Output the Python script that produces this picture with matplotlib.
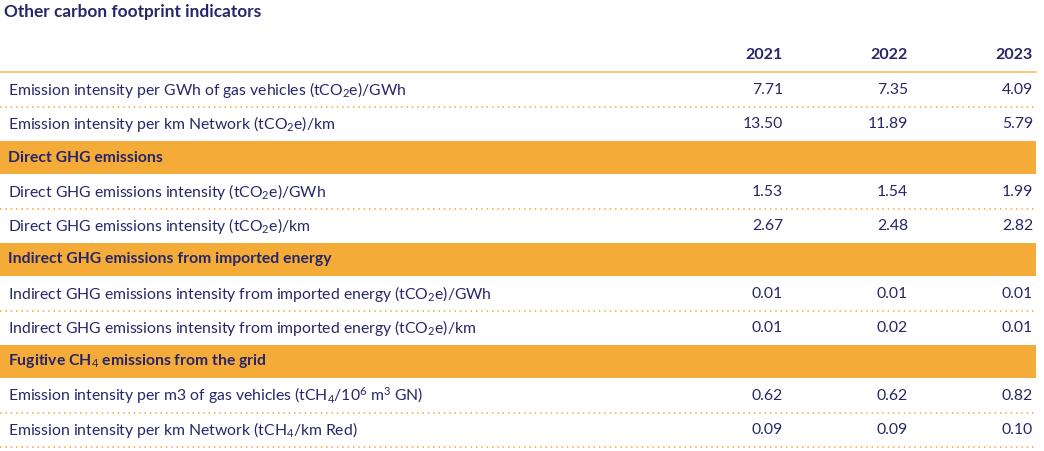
import matplotlib
matplotlib.use("Agg")
import matplotlib.pyplot as plt
from matplotlib.patches import Rectangle

plt.rcParams['font.family'] = ['Lato', 'DejaVu Sans']
plt.rcParams['mathtext.fontset'] = 'custom'
plt.rcParams['mathtext.rm'] = 'Lato'
plt.rcParams['mathtext.it'] = 'Lato'
plt.rcParams['mathtext.bf'] = 'Lato:bold'

title = "Other carbon footprint indicators"
years = ["2021", "2022", "2023"]
# (label, values or None for section header)
rows = [
    ("Emission intensity per GWh of gas vehicles (tCO$_2$e)/GWh", ["7.71", "7.35", "4.09"]),
    ("Emission intensity per km Network (tCO$_2$e)/km", ["13.50", "11.89", "5.79"]),
    ("Direct GHG emissions", None),
    ("Direct GHG emissions intensity (tCO$_2$e)/GWh", ["1.53", "1.54", "1.99"]),
    ("Direct GHG emissions intensity (tCO$_2$e)/km", ["2.67", "2.48", "2.82"]),
    ("Indirect GHG emissions from imported energy", None),
    ("Indirect GHG emissions intensity from imported energy (tCO$_2$e)/GWh", ["0.01", "0.01", "0.01"]),
    ("Indirect GHG emissions intensity from imported energy (tCO$_2$e)/km", ["0.01", "0.02", "0.01"]),
    ("Fugitive CH$_4$ emissions from the grid", None),
    ("Emission intensity per m3 of gas vehicles (tCH$_4$/10$^6$ m$^3$ GN)", ["0.62", "0.62", "0.82"]),
    ("Emission intensity per km Network (tCH$_4$/km Red)", ["0.09", "0.09", "0.10"]),
]

navy = "#27266a"
orange = "#F5AB38"
W, H = 1044, 451
fig = plt.figure(figsize=(W / 100, H / 100), dpi=100)
ax = fig.add_axes([0, 0, 1, 1])
ax.set_xlim(0, W)
ax.set_ylim(H, 0)
ax.axis("off")

fs = 11.3
col_x = [783, 908, 1033]
ax.text(4, 12, title, color=navy, fontsize=12.4, fontweight="bold", va="center")
for x, y in zip(col_x, years):
    ax.text(x, 55, y, color=navy, fontsize=11.5, fontweight="bold", ha="right", va="center")
ax.plot([0, 1036], [72, 72], color=orange, lw=1.2, alpha=0.8)

row_h = 34.0
y = 72.5
for i, (label, vals) in enumerate(rows):
    yc = y + row_h / 2
    if vals is None:
        ax.add_patch(Rectangle((0, y + 0.5), 1036, row_h - 1, color=orange, lw=0))
        ax.text(8, yc, label, color=navy, fontsize=fs, fontweight="bold", va="center")
    else:
        ax.text(8, yc, label, color=navy, fontsize=fs, va="center")
        for x, v in zip(col_x, vals):
            ax.text(x, yc, v, color=navy, fontsize=fs, ha="right", va="center")
        nxt = rows[i + 1] if i + 1 < len(rows) else None
        if nxt is None or nxt[1] is not None:
            ax.plot([0, 1036], [y + row_h, y + row_h], color=orange, lw=1.1, ls=(0, (1, 2.5)))
    y += row_h

fig.savefig("out.png", dpi=100)
